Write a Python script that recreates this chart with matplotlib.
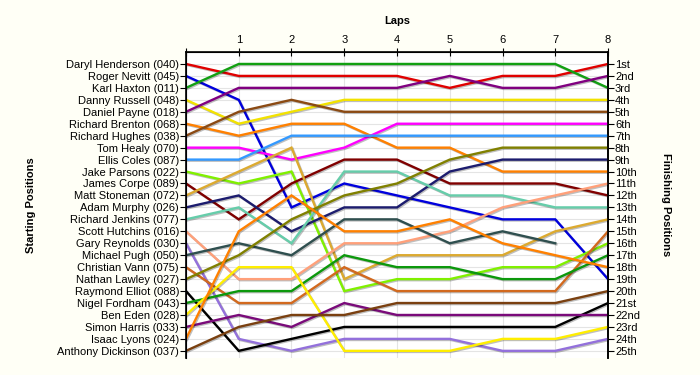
import numpy as np
import matplotlib
import matplotlib.patheffects as pe
matplotlib.use('Agg')
import matplotlib.pyplot as plt

plt.rcParams['font.family'] = ['Liberation Sans', 'DejaVu Sans']

laps = [0, 1, 2, 3, 4, 5, 6, 7, 8]

drivers = ['Daryl Henderson', 'Roger Nevitt', 'Karl Haxton', 'Danny Russell',
           'Daniel Payne', 'Richard Brenton', 'Richard Hughes', 'Tom Healy',
           'Ellis Coles', 'Jake Parsons', 'James Corpe', 'Matt Stoneman',
           'Adam Murphy', 'Richard Jenkins', 'Scott Hutchins', 'Gary Reynolds',
           'Michael Pugh', 'Christian Vann', 'Nathan Lawley', 'Raymond Elliot',
           'Nigel Fordham', 'Ben Eden', 'Simon Harris', 'Isaac Lyons',
           'Anthony Dickinson']
numbers = ['040', '045', '011', '048', '018', '068', '038', '070', '087', '022',
           '089', '072', '026', '077', '016', '030', '050', '075', '027', '088',
           '043', '028', '033', '024', '037']

# position of every driver at each lap (nan = retired)
nan = np.nan
positions = [
    [1, 2, 2, 2, 2, 3, 2, 2, 1],
    [2, 4, 13, 11, 12, 13, 14, 14, 19],
    [3, 1, 1, 1, 1, 1, 1, 1, 3],
    [4, 6, 5, 4, 4, 4, 4, 4, 4],
    [5, 3, 3, 3, 3, 2, 3, 3, 2],
    [6, 7, 6, 6, 8, 8, 10, 10, 10],
    [7, 5, 4, 5, 5, 5, 5, 5, 5],
    [8, 8, 9, 8, 6, 6, 6, 6, 6],
    [9, 9, 7, 7, 7, 7, 7, 7, 7],
    [10, 11, 10, 20, 19, 19, 18, 18, 16],
    [11, 14, 11, 9, 9, 11, 11, 11, 12],
    [12, 10, 8, 19, 17, 17, 17, 15, 14],
    [13, 12, 15, 13, 13, 10, 9, 9, 9],
    [14, 13, 16, 10, 10, 12, 12, 13, 13],
    [15, 19, 19, 16, 16, 15, 13, 12, 11],
    [16, 24, 25, 24, 24, 24, 25, 25, 24],
    [17, 16, 17, 14, 14, 16, 15, 16, nan],
    [18, 21, 21, 18, 20, 20, 20, 20, 15],
    [19, 17, 14, 12, 11, 9, 8, 8, 8],
    [20, 25, 24, 23, 23, 23, 23, 23, 21],
    [21, 20, 20, 17, 18, 18, 19, 19, 17],
    [22, 18, 18, 25, 25, 25, 24, 24, 23],
    [23, 22, 23, 21, 22, 22, 22, 22, 22],
    [24, 15, 12, 15, 15, 14, 16, 17, 18],
    [25, 23, 22, 22, 21, 21, 21, 21, 20],
]

finish_labels = ['1st', '2nd', '3rd', '4th', '5th', '6th', '7th', '8th', '9th',
                 '10th', '11th', '12th', '13th', '14th', '15th', '16th', '17th',
                 '18th', '19th', '20th', '21st', '22nd', '23rd', '24th', '25th']

colors = ['#e00000', '#0000dd', '#12a012', '#f2e200', '#800080', '#ff8000',
          '#8b4a13', '#ff00ff', '#3399ff', '#80f000', '#800000', '#dcaa30',
          '#1c1c6e', '#66cdaa', '#ffa07a', '#9370db', '#2f4f4f', '#d2691e',
          '#808000', '#000000', '#0c980c', '#ffee00', '#7a0a7a', '#ff8000',
          '#7a4010']

fig = plt.figure(figsize=(7, 3.75), dpi=100, facecolor='#fffff6')
ax = fig.add_axes([0.2657, 0.0453, 0.6029, 0.816])
ax.set_facecolor('white')

shadow = [pe.SimpleLineShadow(offset=(0.8, -0.8), alpha=0.25), pe.Normal()]
for i, pos in enumerate(positions):
    ax.plot(laps, pos, color=colors[i], lw=1.7, path_effects=shadow,
            solid_joinstyle='miter', zorder=3)

ax.set_xlim(0, 8)
ax.set_ylim(25.6, 0)
ax.xaxis.tick_top()
ax.xaxis.set_label_position('top')
ax.set_xticks(laps)
ax.set_xticklabels([''] + [str(l) for l in laps[1:]], fontsize=8)
ax.set_xlabel('Laps', fontsize=8, fontweight='bold', labelpad=8)
ax.tick_params(axis='x', direction='inout', length=6, pad=2)

ax.set_yticks(range(1, 26))
ax.set_yticklabels([f'{d} ({n})' for d, n in zip(drivers, numbers)], fontsize=8)
ax.tick_params(axis='y', direction='out', length=4, pad=1)
ax.set_ylabel('Starting Positions', fontsize=8, fontweight='bold', labelpad=15)

ax.grid(True, color='#e4e4e4', lw=0.8, zorder=0)
ax.spines['bottom'].set_visible(False)
for s in ['top', 'left', 'right']:
    ax.spines[s].set_linewidth(1.2)

ax2 = ax.twinx()
ax2.set_ylim(25.6, 0)
ax2.set_yticks(range(1, 26))
ax2.set_yticklabels(finish_labels, fontsize=8)
ax2.tick_params(axis='y', direction='out', length=4, pad=1)
ax2.set_ylabel('Finishing Positions', fontsize=8, fontweight='bold',
               rotation=270, labelpad=22)
ax2.spines['bottom'].set_visible(False)
ax2.spines['right'].set_linewidth(1.2)

fig.savefig('out.png', dpi=100, facecolor=fig.get_facecolor())
